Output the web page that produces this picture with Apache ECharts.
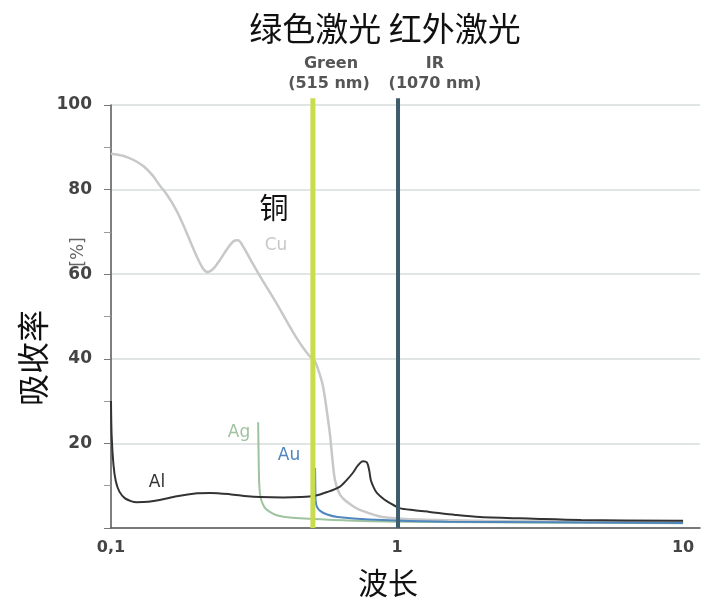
<!DOCTYPE html>
<html>
<head>
<meta charset="utf-8">
<script src="https://cdn.jsdelivr.net/npm/echarts@6/dist/echarts.min.js"></script>
<style>html,body{margin:0;padding:0;background:#fff;}#c{width:708px;height:606px;}</style>
</head>
<body>
<div id="c"></div>
<script>
// wavelength (µm) vs absorption (%)
const cuData = [[0.1,88.5],[0.11,88],[0.12,87],[0.13,85.5],[0.14,83.3],[0.148,81],[0.158,78.5],[0.168,75.5],[0.178,72],[0.19,67.5],[0.2,64],[0.21,61.3],[0.218,60.5],[0.228,61.3],[0.24,63.3],[0.255,66],[0.268,67.8],[0.278,68],[0.29,66.5],[0.31,63],[0.332,59.5],[0.38,53],[0.44,45.5],[0.489,41],[0.515,39.5],[0.53,37.5],[0.551,33.5],[0.57,27],[0.583,22],[0.595,16],[0.606,11.5],[0.625,8.5],[0.647,7],[0.7,5.2],[0.74,4.3],[0.89,2.6],[1.2,2],[2,1.7],[5,1.5],[10,1.4]];
const alData = [[0.1,30],[0.1005,22],[0.102,15],[0.104,11],[0.107,8.6],[0.112,7],[0.118,6.3],[0.123,6.1],[0.135,6.2],[0.148,6.6],[0.17,7.5],[0.2,8.2],[0.222,8.3],[0.26,8],[0.3,7.5],[0.332,7.3],[0.4,7.2],[0.46,7.3],[0.515,7.6],[0.57,8.5],[0.632,9.8],[0.67,11.5],[0.7,13],[0.73,14.8],[0.76,15.8],[0.785,15.5],[0.8,13.5],[0.81,11.3],[0.83,9.5],[0.85,8.3],[0.9,6.8],[0.945,5.9],[1.02,4.7],[1.15,4.2],[1.3,3.8],[1.6,3.1],[1.95,2.6],[3,2.2],[4.4,1.9],[10,1.7]];
const agData = [[0.327,25],[0.328,18],[0.33,10],[0.334,7],[0.342,5.2],[0.351,4.3],[0.38,3],[0.43,2.4],[0.6,1.9],[1,1.5],[10,1.1]];
const auData = [[0.517,14.2],[0.518,10],[0.519,6.6],[0.525,5],[0.54,4],[0.57,3.2],[0.62,2.6],[0.8,2],[1.5,1.5],[10,1.2]];
const greenLaser = [[0.508,0],[0.508,101.6]];
const irLaser = [[1.008,0],[1.008,101.6]];
const xTickLabels = {"0.1":"0,1","1":"1","10":"10"};
const yTicks = [0,20,40,60,80,100];

const chart = echarts.init(document.getElementById('c'), null, {renderer:'canvas'});
const cjk = '"Noto Sans CJK SC", sans-serif';
const lat = '"DejaVu Sans", sans-serif';
function t(x,y,s,size,color,font,extra){
  const st = Object.assign({text:s,fontSize:size,fill:color,fontFamily:font,textAlign:'center',textVerticalAlign:'middle'}, extra&&extra.style||{});
  const o = {type:'text',x:x,y:y,style:st};
  if(extra&&extra.rotation!==undefined) o.rotation = extra.rotation;
  return o;
}
const option = {
  animation:false,
  backgroundColor:'#fff',
  grid:{left:111,right:8,top:105,bottom:78},
  xAxis:{type:'log',logBase:10,min:0.1,max:11.46,
    axisLine:{lineStyle:{color:'#555',width:1.5}},
    axisTick:{show:false},
    splitLine:{show:false},
    axisLabel:{margin:12,fontSize:16,fontWeight:'bold',color:'#444',fontFamily:lat,
      formatter:function(v){const k=String(Math.round(v*1000)/1000);return xTickLabels[k]||'';}}
  },
  yAxis:{type:'value',min:yTicks[0],max:yTicks[yTicks.length-1],interval:20,
    axisLine:{show:true,lineStyle:{color:'#555',width:1.5}},
    axisTick:{show:true,length:7,lineStyle:{color:'#777'}},
    minorTick:{show:true,splitNumber:2,length:7,lineStyle:{color:'#999'}},
    splitLine:{show:true,lineStyle:{color:'#d8dcdc',width:1.5}},
    axisLabel:{margin:19,fontSize:17,fontWeight:'bold',color:'#444',fontFamily:lat,
      formatter:function(v){return v===0?'':String(v);}}
  },
  series:[
    {type:'line',data:cuData,symbol:'none',smooth:0.3,lineStyle:{color:'#c8c8c8',width:2.5},z:3},
    {type:'line',data:agData,symbol:'none',smooth:0.3,lineStyle:{color:'#9fc29f',width:2},z:3},
    {type:'line',data:auData,symbol:'none',smooth:0.3,lineStyle:{color:'#4f86bd',width:2},z:3},
    {type:'line',data:alData,symbol:'none',smooth:0.3,lineStyle:{color:'#333',width:2},z:4},
    {type:'line',data:greenLaser,symbol:'none',clip:false,lineStyle:{color:'#c8dc4c',width:5},z:5},
    {type:'line',data:irLaser,symbol:'none',clip:false,lineStyle:{color:'#3d5c6c',width:4},z:5}
  ],
  graphic:[
    t(385,28,'绿色激光 红外激光',33,'#111',cjk),
    t(274,208,'铜',29,'#111',cjk),
    t(388,583,'波长',30,'#111',cjk),
    t(33,358,'吸收率',32,'#111',cjk,{rotation:Math.PI/2}),
    t(79,252,'[%]',17,'#666',lat,{rotation:Math.PI/2}),
    t(331,64,'Green',16,'#555',lat,{style:{fontWeight:'bold'}}),
    t(329,84,'(515 nm)',16,'#555',lat,{style:{fontWeight:'bold'}}),
    t(435,64,'IR',16,'#555',lat,{style:{fontWeight:'bold'}}),
    t(435,84,'(1070 nm)',16,'#555',lat,{style:{fontWeight:'bold'}}),
    t(276,246,'Cu',17,'#c8c8c8',lat),
    t(239,433,'Ag',17,'#9fc29f',lat),
    t(289,456,'Au',17,'#4f86bd',lat),
    t(157,483,'Al',17,'#333',lat)
  ]
};
chart.setOption(option);
</script>
</body>
</html>
